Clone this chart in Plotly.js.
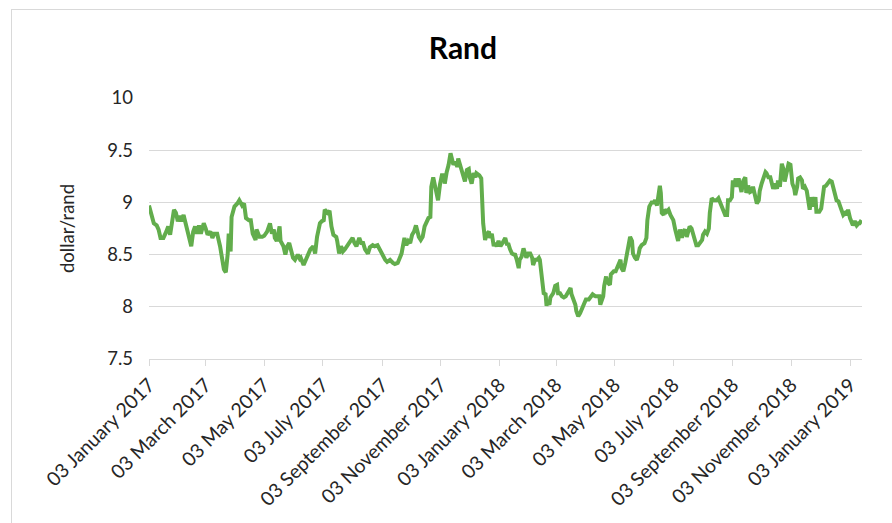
<!DOCTYPE html>
<html>
<head>
<meta charset="utf-8">
<script src="https://cdn.plot.ly/plotly-3.0.1.min.js"></script>
<style>
  html, body { margin: 0; padding: 0; background: #ffffff; }
  #wrap { position: relative; width: 892px; height: 523px; overflow: hidden; }
  #chart { position: absolute; left: 0; top: 0; width: 892px; height: 523px; }
  #frame { position: absolute; left: 11px; top: 9px; width: 920px; height: 540px;
           border: 1px solid #d9d9d9; pointer-events: none; }
</style>
</head>
<body>
<div id="wrap">
  <div id="chart"></div>
  <div id="frame"></div>
</div>
<script>
// ---- data ----
const chartTitle = "Rand";
const yAxisTitle = "dollar/rand";

const dates = [
  "2017-01-03","2017-01-06","2017-01-08","2017-01-11","2017-01-13","2017-01-15","2017-01-18","2017-01-21","2017-01-23","2017-01-25",
  "2017-01-27","2017-01-29","2017-01-31","2017-02-02","2017-02-04","2017-02-06","2017-02-08","2017-02-10","2017-02-12","2017-02-14",
  "2017-02-16","2017-02-18","2017-02-20","2017-02-22","2017-02-24","2017-02-26","2017-03-01","2017-03-03","2017-03-05","2017-03-08",
  "2017-03-10","2017-03-12","2017-03-15","2017-03-18","2017-03-20","2017-03-22","2017-03-24","2017-03-26","2017-03-27","2017-03-29",
  "2017-03-30","2017-04-02","2017-04-05","2017-04-07","2017-04-10","2017-04-12","2017-04-14","2017-04-17","2017-04-19","2017-04-21",
  "2017-04-24","2017-04-25","2017-04-28","2017-05-01","2017-05-03","2017-05-06","2017-05-09","2017-05-11","2017-05-13","2017-05-14",
  "2017-05-16","2017-05-19","2017-05-20","2017-05-23","2017-05-25","2017-05-27","2017-05-29","2017-05-31","2017-06-02","2017-06-04",
  "2017-06-07","2017-06-09","2017-06-10","2017-06-13","2017-06-15","2017-06-17","2017-06-20","2017-06-23","2017-06-25","2017-06-27",
  "2017-06-30","2017-07-02","2017-07-04","2017-07-05","2017-07-08","2017-07-10","2017-07-11","2017-07-12","2017-07-14","2017-07-17",
  "2017-07-18","2017-07-20","2017-07-22","2017-07-24","2017-07-26","2017-07-29","2017-07-31","2017-08-03","2017-08-05","2017-08-07",
  "2017-08-10","2017-08-12","2017-08-14","2017-08-16","2017-08-19","2017-08-21","2017-08-24","2017-08-26","2017-08-29","2017-08-31",
  "2017-09-03","2017-09-06","2017-09-08","2017-09-11","2017-09-14","2017-09-16","2017-09-19","2017-09-21","2017-09-23","2017-09-26",
  "2017-09-28","2017-09-30","2017-10-02","2017-10-04","2017-10-06","2017-10-08","2017-10-11","2017-10-13","2017-10-15","2017-10-17",
  "2017-10-19","2017-10-21","2017-10-23","2017-10-24","2017-10-26","2017-10-27","2017-10-29","2017-10-31","2017-11-02","2017-11-04",
  "2017-11-06","2017-11-07","2017-11-09","2017-11-11","2017-11-13","2017-11-14","2017-11-16","2017-11-18","2017-11-20","2017-11-21",
  "2017-11-23","2017-11-25","2017-11-27","2017-11-28","2017-11-30","2017-12-02","2017-12-03","2017-12-05","2017-12-07","2017-12-09",
  "2017-12-10","2017-12-13","2017-12-15","2017-12-16","2017-12-17","2017-12-19","2017-12-21","2017-12-23","2017-12-24","2017-12-26",
  "2017-12-28","2017-12-29","2017-12-31","2018-01-02","2018-01-04","2018-01-06","2018-01-09","2018-01-11","2018-01-12","2018-01-14",
  "2018-01-16","2018-01-18","2018-01-19","2018-01-21","2018-01-23","2018-01-24","2018-01-26","2018-01-28","2018-01-30","2018-01-31",
  "2018-02-02","2018-02-04","2018-02-06","2018-02-07","2018-02-09","2018-02-11","2018-02-13","2018-02-14","2018-02-16","2018-02-18",
  "2018-02-20","2018-02-21","2018-02-22","2018-02-24","2018-02-25","2018-02-28","2018-03-02","2018-03-04","2018-03-05","2018-03-07",
  "2018-03-09","2018-03-11","2018-03-13","2018-03-16","2018-03-18","2018-03-19","2018-03-21","2018-03-23","2018-03-24","2018-03-26",
  "2018-03-28","2018-03-30","2018-04-01","2018-04-03","2018-04-06","2018-04-08","2018-04-10","2018-04-13","2018-04-15","2018-04-17",
  "2018-04-18","2018-04-21","2018-04-22","2018-04-24","2018-04-25","2018-04-28","2018-04-29","2018-05-02","2018-05-04","2018-05-07",
  "2018-05-09","2018-05-10","2018-05-12","2018-05-14","2018-05-16","2018-05-17","2018-05-19","2018-05-21","2018-05-22","2018-05-24",
  "2018-05-26","2018-05-28","2018-05-29","2018-05-31","2018-06-03","2018-06-05","2018-06-06","2018-06-08","2018-06-11","2018-06-12",
  "2018-06-14","2018-06-16","2018-06-17","2018-06-19","2018-06-20","2018-06-21","2018-06-23","2018-06-24","2018-06-26","2018-06-28",
  "2018-06-30","2018-07-01","2018-07-03","2018-07-05","2018-07-07","2018-07-08","2018-07-10","2018-07-12","2018-07-13","2018-07-15",
  "2018-07-17","2018-07-19","2018-07-20","2018-07-22","2018-07-24","2018-07-26","2018-07-27","2018-07-29","2018-07-31","2018-08-02",
  "2018-08-03","2018-08-05","2018-08-07","2018-08-09","2018-08-10","2018-08-12","2018-08-14","2018-08-16","2018-08-17","2018-08-19",
  "2018-08-21","2018-08-22","2018-08-24","2018-08-26","2018-08-28","2018-08-29","2018-08-31","2018-09-02","2018-09-03","2018-09-04",
  "2018-09-06","2018-09-07","2018-09-09","2018-09-11","2018-09-12","2018-09-14","2018-09-16","2018-09-17","2018-09-19","2018-09-21",
  "2018-09-23","2018-09-24","2018-09-26","2018-09-28","2018-09-30","2018-10-01","2018-10-03","2018-10-05","2018-10-07","2018-10-08",
  "2018-10-10","2018-10-12","2018-10-13","2018-10-15","2018-10-17","2018-10-19","2018-10-20","2018-10-22","2018-10-24","2018-10-26",
  "2018-10-27","2018-10-29","2018-10-31","2018-11-02","2018-11-03","2018-11-04","2018-11-06","2018-11-07","2018-11-09","2018-11-10",
  "2018-11-12","2018-11-14","2018-11-15","2018-11-17","2018-11-19","2018-11-21","2018-11-22","2018-11-23","2018-11-24","2018-11-26",
  "2018-11-28","2018-11-29","2018-12-02","2018-12-04","2018-12-06","2018-12-07","2018-12-09","2018-12-11","2018-12-13","2018-12-15",
  "2018-12-17","2018-12-18","2018-12-20","2018-12-22","2018-12-24","2018-12-25","2018-12-27","2018-12-29","2018-12-31","2019-01-01",
  "2019-01-03","2019-01-05","2019-01-06","2019-01-08","2019-01-10","2019-01-12","2019-01-13","2019-01-15"
];

const rand = [
  8.97,8.88,8.80,8.78,8.74,8.66,8.66,8.72,8.77,8.69,
  8.85,8.93,8.90,8.82,8.87,8.82,8.88,8.80,8.75,8.67,
  8.58,8.72,8.77,8.70,8.78,8.70,8.80,8.75,8.69,8.72,
  8.66,8.70,8.70,8.58,8.48,8.36,8.33,8.51,8.70,8.53,
  8.86,8.96,8.99,9.02,8.97,8.99,8.85,8.83,8.83,8.70,
  8.64,8.74,8.67,8.67,8.68,8.72,8.80,8.70,8.74,8.66,
  8.63,8.77,8.63,8.58,8.50,8.58,8.61,8.55,8.47,8.45,
  8.50,8.46,8.47,8.40,8.44,8.50,8.55,8.58,8.51,8.67,
  8.80,8.82,8.83,8.93,8.90,8.92,8.82,8.77,8.69,8.67,
  8.63,8.51,8.58,8.53,8.55,8.59,8.63,8.66,8.61,8.58,
  8.66,8.61,8.61,8.55,8.51,8.57,8.59,8.58,8.59,8.55,
  8.51,8.45,8.43,8.45,8.42,8.41,8.42,8.47,8.51,8.66,
  8.59,8.63,8.61,8.69,8.72,8.78,8.67,8.64,8.67,8.77,
  8.82,8.85,8.86,9.15,9.24,9.20,9.12,9.02,9.17,9.26,
  9.26,9.18,9.29,9.36,9.47,9.43,9.36,9.39,9.34,9.42,
  9.36,9.32,9.24,9.20,9.31,9.32,9.24,9.18,9.28,9.24,
  9.28,9.26,9.23,9.02,8.80,8.64,8.70,8.72,8.66,8.70,
  8.58,8.61,8.58,8.63,8.58,8.61,8.66,8.59,8.61,8.55,
  8.51,8.50,8.51,8.45,8.37,8.45,8.48,8.56,8.50,8.47,
  8.51,8.51,8.47,8.40,8.45,8.45,8.47,8.45,8.29,8.13,
  8.12,8.01,8.05,8.02,8.09,8.13,8.20,8.21,8.13,8.13,
  8.10,8.09,8.10,8.15,8.18,8.12,8.07,8.02,7.96,7.91,
  7.94,7.99,8.02,8.07,8.07,8.10,8.12,8.10,8.10,8.10,
  8.02,8.10,8.20,8.29,8.24,8.21,8.31,8.34,8.34,8.42,
  8.45,8.37,8.34,8.42,8.53,8.61,8.67,8.63,8.51,8.47,
  8.45,8.51,8.56,8.59,8.61,8.66,8.83,8.96,9.01,8.99,
  9.02,8.97,9.05,9.16,9.09,8.90,8.88,8.93,8.91,8.93,
  8.88,8.86,8.83,8.74,8.67,8.63,8.74,8.66,8.72,8.74,
  8.67,8.74,8.77,8.75,8.69,8.63,8.59,8.59,8.61,8.64,
  8.69,8.72,8.70,8.75,8.90,9.04,9.02,9.02,9.02,9.04,
  8.99,8.97,8.93,8.88,8.88,9.02,9.02,9.05,9.21,9.15,
  9.23,9.15,9.23,9.15,9.10,9.21,9.24,9.09,9.16,9.10,
  9.11,9.15,9.05,8.99,9.02,9.11,9.18,9.23,9.29,9.28,
  9.24,9.24,9.21,9.13,9.18,9.13,9.21,9.15,9.37,9.31,
  9.20,9.31,9.37,9.36,9.24,9.18,9.13,9.07,9.15,9.23,
  9.24,9.21,9.13,9.15,9.11,9.02,8.93,8.99,9.05,8.96,
  9.05,8.91,8.91,8.94,9.05,9.15,9.16,9.18,9.21,9.20,
  9.13,9.09,9.02,9.01,8.97,8.93,8.88,8.90,8.88,8.93,
  8.85,8.80,8.78,8.82,8.78,8.80,8.80,8.83
];

const tickDates = [
  "2017-01-03","2017-03-03","2017-05-03","2017-07-03","2017-09-03","2017-11-03",
  "2018-01-03","2018-03-03","2018-05-03","2018-07-03","2018-09-03","2018-11-03","2019-01-03"
];
const tickLabels = [
  "03 January 2017","03 March 2017","03 May 2017","03 July 2017","03 September 2017","03 November 2017",
  "03 January 2018","03 March 2018","03 May 2018","03 July 2018","03 September 2018","03 November 2018","03 January 2019"
];
const yTicks = [7.5, 8, 8.5, 9, 9.5, 10];
const yTickLabels = ["7.5", "8", "8.5", "9", "9.5", "10"];
const xRange = ["2017-01-03", "2019-01-15 12:00"];
const yRange = [7.5, 10];

// ---- chart ----
const FONT = "Lato, 'Open Sans', sans-serif";
const TXT = "#262626";

const trace = {
  type: "scatter",
  mode: "lines",
  x: dates,
  y: rand,
  line: { color: "#62ad4c", width: 4 },
  hoverinfo: "x+y",
  showlegend: false
};

const layout = {
  width: 892,
  height: 523,
  margin: { l: 149, r: 30, t: 98, b: 164, pad: 0 },
  paper_bgcolor: "#ffffff",
  plot_bgcolor: "#ffffff",
  font: { family: FONT, size: 18, color: TXT },
  title: {
    text: "<b>" + chartTitle + "</b>",
    font: { family: FONT, size: 30, color: "#000000" },
    xref: "container", yref: "container",
    x: 0.519, y: 0.908, xanchor: "center", yanchor: "middle"
  },
  xaxis: {
    type: "date",
    range: xRange,
    tickmode: "array",
    tickvals: tickDates,
    ticktext: tickLabels,
    tickangle: -45,
    ticks: "outside",
    ticklen: 6,
    tickwidth: 1,
    tickcolor: "#d9d9d9",
    showline: true,
    linecolor: "#d9d9d9",
    linewidth: 1,
    showgrid: false,
    zeroline: false,
    tickfont: { family: FONT, size: 19.5, color: TXT },
    fixedrange: true
  },
  yaxis: {
    range: yRange,
    tickmode: "array",
    tickvals: yTicks,
    ticktext: yTickLabels,
    showgrid: true,
    gridcolor: "#d9d9d9",
    gridwidth: 1,
    zeroline: false,
    showline: false,
    ticks: "",
    ticklabelstandoff: 15,
    tickfont: { family: FONT, size: 18.5, color: TXT },
    title: { text: yAxisTitle, font: { family: FONT, size: 18.5, color: TXT }, standoff: 27 },
    fixedrange: true
  }
};

Plotly.newPlot("chart", [trace], layout, { displayModeBar: false, staticPlot: true });
</script>
</body>
</html>
